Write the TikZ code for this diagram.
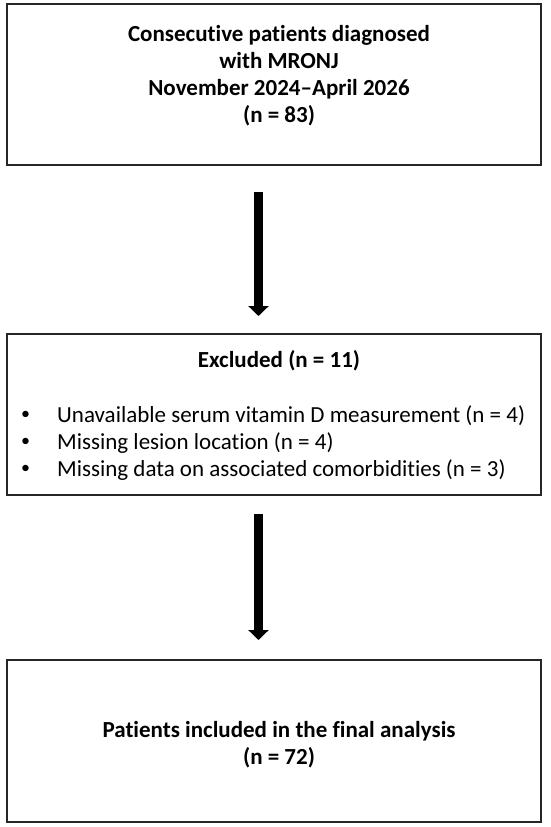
\documentclass[tikz,border=0pt]{standalone}
\usepackage{fontspec}
\setmainfont{Carlito}[Ligatures={TeX,NoCommon}]
\usetikzlibrary{arrows.meta,calc}
\tikzset{
  box/.style={draw=black!85, line width=1.3pt, minimum width=534pt, inner sep=0pt},
  title/.style={font=\bfseries\fontsize{23}{27}\selectfont, inner sep=0pt, anchor=base},
  body/.style={font=\fontsize{23}{27}\selectfont, inner sep=0pt, anchor=base west},
  bullet/.style={font=\fontsize{18}{27}\selectfont, inner sep=0pt, anchor=base west},
  bigarrow/.style={line width=9pt, -{Triangle[width=20pt,length=10pt]}, black}
}
\begin{document}
\begin{tikzpicture}[x=1pt,y=1pt]
\useasboundingbox (0,0) rectangle (550,-827);
\node[box, minimum height=161pt] (b1) at (274,-84.5) {};
\node[box, minimum height=161pt] (b2) at (274,-414.5) {};
\node[box, minimum height=162pt] (b3) at (274,-741) {};

\node[title] (t1a) at (279,-41) {Consecutive patients diagnosed};
\node[title] (t1b) at (279,-68) {with MRONJ};
\node[title] (t1c) at (279,-95) {November 2024--April 2026};
\node[title] (t1d) at (279,-122) {(n = 83)};

\node[title] (t2) at (279,-367) {Excluded (n = 11)};
\node[bullet] (u1) at (21,-419.5) {\textbullet};
\node[bullet] (u2) at (21,-446.5) {\textbullet};
\node[bullet] (u3) at (21,-473.5) {\textbullet};
\node[body] (e1) at (57,-422) {Unavailable serum vitamin D measurement (n = 4)};
\node[body] (e2) at (57,-449) {Missing lesion location (n = 4)};
\node[body] (e3) at (57,-476) {Missing data on associated comorbidities (n = 3)};

\node[title] (t3a) at (279,-737) {Patients included in the final analysis};
\node[title] (t3b) at (279,-764) {(n = 72)};

\coordinate (a1s) at (258.5,-192);
\coordinate (a1e) at (258.5,-316);
\coordinate (a2s) at (258.5,-514);
\coordinate (a2e) at (258.5,-640);
\draw[bigarrow] (a1s) -- (a1e);
\draw[bigarrow] (a2s) -- (a2e);
\end{tikzpicture}
\end{document}
